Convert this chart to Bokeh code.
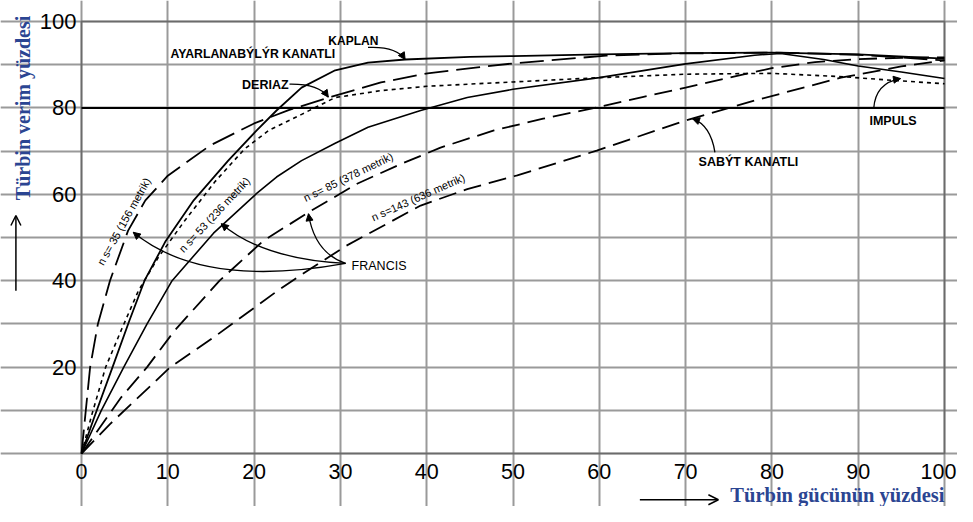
from bokeh.plotting import figure
from bokeh.models import Range1d, FixedTicker, Label, Arrow, NormalHead, OpenHead, Grid, BoxAnnotation
from bokeh.core.properties import value
from bokeh.embed import file_html
from bokeh.resources import INLINE
import math

# ---------------- data ----------------
x_ticks = [0, 10, 20, 30, 40, 50, 60, 70, 80, 90, 100]
y_ticks = [20, 40, 60, 80, 100]
grid_ticks = [0, 10, 20, 30, 40, 50, 60, 70, 80, 90, 100]
axis_bounds = [0, 100]
ref_level = 80

kaplan_x = [0, 1.5, 3.6, 5.5, 7.3, 9.7, 13, 17, 20.3, 22.6, 25.5, 29.4, 33.2, 37.5, 45, 50, 60, 70, 80, 90, 100]
kaplan_y = [0, 8.5, 20, 30.5, 40, 49, 58.6, 67.8, 74.8, 79.4, 84.7, 88.7, 90.5, 91.2, 91.8, 92, 92.4, 92.7, 92.8, 92.4, 91.4]

impuls_x = [0, 1.2, 2.8, 4.7, 6.6, 8.9, 12, 15.5, 18.9, 21.7, 25.5, 29.4, 34.7, 40, 45.9, 50, 60, 70, 80, 88.4, 94.5, 100]
impuls_y = [0, 9, 20, 29, 37.7, 45.4, 54, 63, 70.5, 74.8, 78.5, 82.4, 84, 85, 85.6, 86, 87, 87.8, 88, 87.2, 86.3, 85.6]

ns35_x = [0, 0.4, 1.0, 1.9, 3.3, 5.4, 7.4, 10, 14.9, 20, 24, 29, 34.7, 40.1, 45.9, 50, 60.8, 69.2, 81, 90, 100]
ns35_y = [0, 8, 20, 30, 40, 51.6, 58.6, 64.3, 71.3, 76.4, 79.5, 82.6, 85.9, 88, 89.4, 90.3, 92.1, 92.6, 92.8, 92.3, 91]

ns53_x = [0, 2.3, 4.9, 7.6, 10.5, 15.3, 20.3, 22.6, 25.5, 29.4, 33.2, 39.3, 44.7, 50, 60, 70, 78, 81, 86, 90, 95, 100]
ns53_y = [0, 10, 20, 30, 40, 51, 60.2, 64, 67.8, 71.8, 75.5, 79.4, 82.4, 84.3, 87, 90.2, 92.2, 92.6, 91.2, 89.7, 88.3, 86.8]

ns85_x = [0, 4.6, 7.6, 10.8, 16, 21.1, 26.7, 32, 37, 41.6, 47.8, 53.5, 59.7, 65, 70, 75, 80, 85, 90, 95, 100]
ns85_y = [0, 13, 20, 28.5, 40, 49.3, 56.3, 62.5, 67, 70.8, 74.8, 77.5, 80.1, 82.5, 84.7, 87, 89.2, 90.6, 91.3, 91.6, 91.7]

sabit_x = [0, 3.3, 10.3, 15.6, 22.6, 25.2, 30.6, 39.3, 44.7, 50.5, 59.7, 70, 78, 88, 95, 100]
sabit_y = [0, 6.8, 20, 27.3, 37.5, 41, 48, 57.4, 61.2, 64.4, 70.1, 77.1, 81.7, 87, 89.6, 91]

# text labels: (text, x, y, align, angle_deg, size, weight)
plain_labels = [
    ("KAPLAN", 31.5, 95.4, "center", 0, "12px", "bold"),
    ("AYARLANABÝLÝR KANATLI", 10.3, 92.4, "left", 0, "12.3px", "bold"),
    ("DERIAZ", 18.6, 85.4, "left", 0, "12.5px", "bold"),
    ("IMPULS", 91.3, 76.9, "left", 0, "12.5px", "bold"),
    ("SABÝT KANATLI", 71.5, 67.4, "left", 0, "12.5px", "bold"),
    ("FRANCIS", 31.3, 43.3, "left", 0, "12.5px", "normal"),
    ("n s= 35 (156 metrik)", 4.9, 53.7, "center", 61, "11px", "normal"),
    ("n s= 53 (236 metrik)", 15.4, 55.3, "center", 47, "11px", "normal"),
    ("n s= 85 (378 metrik)", 30.9, 64.0, "center", 26, "11px", "normal"),
    ("n s=143 (636 metrik)", 39.0, 59.3, "center", 24, "11px", "normal"),
]

# annotation pointers: start, control, tip
pointer_x0 = [33.2, 24.1, 91.8, 73.4, 30.6, 30.6, 30.6]
pointer_y0 = [94.0, 85.5, 79.9, 69.7, 44.0, 44.0, 44.0]
pointer_cx = [36.5, 27.5, 92.0, 72.9, 14.0, 21.0, 27.0]
pointer_cy = [94.3, 85.6, 85.8, 76.0, 38.0, 45.0, 46.5]
pointer_x1 = [37.5, 28.6, 94.9, 70.8, 6.0, 16.2, 26.3]
pointer_y1 = [91.2, 82.5, 86.8, 77.5, 51.2, 53.2, 55.5]

# ---------------- figure ----------------
W, H = 957, 506
X0, XS = 81, 8.63      # pixel of x=0, pixels per unit
Y0, YS = 453, 4.32     # pixel of y=0, pixels per unit
p = figure(width=W, height=H,
           x_range=Range1d(-X0 / XS, (W - X0) / XS),
           y_range=Range1d(-(H - Y0) / YS, Y0 / YS),
           output_backend="svg", toolbar_location=None,
           x_axis_location=None, y_axis_location=None,
           min_border=0, min_border_left=0, min_border_right=0,
           min_border_top=0, min_border_bottom=0)
p.background_fill_color = "white"
p.border_fill_color = "white"
p.outline_line_color = None

for dim in (0, 1):
    p.add_layout(Grid(dimension=dim, ticker=FixedTicker(ticks=grid_ticks), bounds=(0, 100),
                      grid_line_color="#9a9a9a", grid_line_width=2))

# horizontal reference line at 80
p.line(axis_bounds, [ref_level, ref_level], line_color="black", line_width=2)

p.line(kaplan_x, kaplan_y, line_color="black", line_width=1.8)
p.line(ns53_x, ns53_y, line_color="black", line_width=1.6)
p.line(impuls_x, impuls_y, line_color="black", line_width=1.6, line_dash="4 4")
p.line(ns35_x, ns35_y, line_color="black", line_width=1.8, line_dash="24 8")
p.line(ns85_x, ns85_y, line_color="black", line_width=1.8, line_dash="18 8")
p.line(sabit_x, sabit_y, line_color="black", line_width=1.8, line_dash="18 8")

# plot-area frame
p.add_layout(BoxAnnotation(left=0, right=100, bottom=0, top=100, fill_alpha=0,
                           line_color="black", line_width=2, level="overlay"))

# tick labels
x_label_shift = [0] * (len(x_ticks) - 1) + [-6]
p.text(x=x_ticks, y=[0] * len(x_ticks), text=[str(t) for t in x_ticks], y_offset=18,
       x_offset=x_label_shift,
       text_align="center", text_baseline="middle", text_font=value("Liberation Sans"),
       text_font_size="21.5px", text_color="black")
p.text(x=[0] * len(y_ticks), y=y_ticks, text=[str(t) for t in y_ticks], x_offset=-5,
       text_align="right", text_baseline="middle", text_font=value("Liberation Sans"),
       text_font_size="22px", text_color="black")

# pointers
p.quadratic(x0=pointer_x0, y0=pointer_y0, x1=pointer_x1, y1=pointer_y1,
            cx=pointer_cx, cy=pointer_cy, line_color="black", line_width=1.3)
for cx, cy, tx, ty in zip(pointer_cx, pointer_cy, pointer_x1, pointer_y1):
    p.add_layout(Arrow(end=NormalHead(size=7, fill_color="black", line_color="black", line_width=1),
                       x_start=cx, y_start=cy, x_end=tx, y_end=ty, line_alpha=0))

for txt, x, y, align, ang, size, weight in plain_labels:
    p.add_layout(Label(x=x, y=y, text=txt, text_align=align, text_baseline="middle",
                       angle=math.radians(ang), text_font="Liberation Sans",
                       text_font_size=size, text_font_style=weight, text_color="black"))

# axis titles with arrows
title_color = "#2b4592"
p.add_layout(Label(x=-6.8, y=80, text="Türbin verim yüzdesi", angle=math.pi / 2,
                   text_align="center", text_baseline="middle", text_font="Liberation Serif",
                   text_font_size="20px", text_font_style="bold", text_color=title_color))
p.add_layout(Label(x=100, y=-9.6, text="Türbin gücünün yüzdesi", text_align="right",
                   text_baseline="middle", text_font="Liberation Serif",
                   text_font_size="20.5px", text_font_style="bold", text_color=title_color))
p.add_layout(Arrow(end=OpenHead(size=10, line_color="black", line_width=1.5),
                   x_start=64.7, y_start=-10.7, x_end=73.8, y_end=-10.7,
                   line_color="black", line_width=1.5))
p.add_layout(Arrow(end=OpenHead(size=10, line_color="black", line_width=1.5),
                   x_start=-7.6, y_start=37.7, x_end=-7.6, y_end=55.1,
                   line_color="black", line_width=1.5))

open("out.html", "w").write(file_html(p, INLINE))
